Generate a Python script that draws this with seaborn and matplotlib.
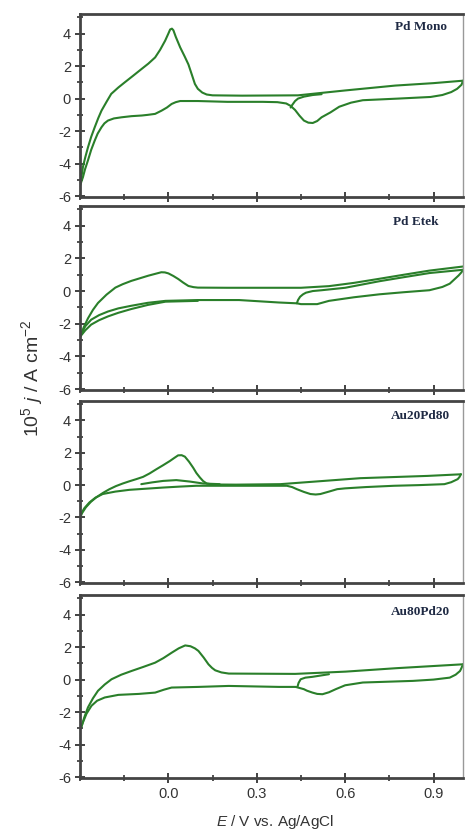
import pandas as pd
import seaborn as sns
import matplotlib.pyplot as plt
from matplotlib.ticker import MultipleLocator

sns.set_style("white")
plt.rcParams['font.family'] = ['Liberation Sans', 'DejaVu Sans']
plt.rcParams['mathtext.fontset'] = 'custom'
plt.rcParams['mathtext.rm'] = 'Liberation Sans'
plt.rcParams['mathtext.it'] = 'Liberation Sans:italic'
plt.rcParams['axes.unicode_minus'] = False

# --- Pd Mono ---
mono_start_E = [0.415, 0.42, 0.43, 0.44, 0.46, 0.49, 0.52]
mono_start_j = [-0.55, -0.4, -0.15, 0.0, 0.12, 0.22, 0.27]
mono_fwd_E = [-0.30, -0.295, -0.29, -0.282, -0.273, -0.262, -0.25, -0.238, -0.227, -0.21,
              -0.194, -0.17, -0.148, -0.12, -0.091, -0.068, -0.045, -0.028, -0.011, 0.0,
              0.006, 0.012, 0.017, 0.025, 0.04, 0.055, 0.068, 0.08, 0.09, 0.1, 0.115, 0.13,
              0.15, 0.25, 0.44, 0.60, 0.77, 0.90, 1.0]
mono_fwd_j = [-5.35, -4.8, -4.2, -3.6, -3.0, -2.35, -1.76, -1.2, -0.74, -0.2,
              0.29, 0.68, 1.0, 1.4, 1.82, 2.15, 2.53, 3.0, 3.56, 4.0,
              4.25, 4.3, 4.2, 3.8, 3.15, 2.6, 2.1, 1.45, 0.9, 0.6, 0.37, 0.25,
              0.2, 0.18, 0.2, 0.5, 0.8, 0.95, 1.1]
mono_rev_E = [1.0, 0.995, 0.98, 0.96, 0.93, 0.89, 0.78, 0.66, 0.62, 0.58, 0.55, 0.52, 0.505,
              0.49, 0.475, 0.46, 0.445, 0.43, 0.415, 0.40, 0.37, 0.32, 0.2, 0.1, 0.04, 0.025,
              0.011, -0.005, -0.023, -0.045, -0.07, -0.09, -0.125, -0.159, -0.185, -0.205,
              -0.217, -0.227, -0.24, -0.25, -0.262, -0.273, -0.283, -0.29, -0.30]
mono_rev_j = [1.1, 0.85, 0.6, 0.4, 0.22, 0.1, 0.0, -0.1, -0.25, -0.5, -0.85, -1.15, -1.38,
              -1.5, -1.48, -1.35, -1.05, -0.7, -0.45, -0.3, -0.22, -0.2, -0.2, -0.15, -0.15, -0.22,
              -0.33, -0.55, -0.74, -0.94, -1.0, -1.04, -1.08, -1.15, -1.22, -1.35,
              -1.52, -1.76, -2.15, -2.58, -3.15, -3.8, -4.35, -4.83, -5.35]

# --- Pd Etek ---
etek_fwd_E = [-0.30, -0.287, -0.273, -0.256, -0.239, -0.21, -0.18, -0.155, -0.126, -0.097,
              -0.068, -0.045, -0.024, -0.012, 0.0, 0.017, 0.034, 0.05, 0.068, 0.085, 0.10,
              0.2, 0.45, 0.545, 0.63, 0.716, 0.8, 0.886, 1.0]
etek_fwd_j = [-2.8, -2.2, -1.67, -1.15, -0.73, -0.22, 0.21, 0.42, 0.62, 0.78,
              0.94, 1.05, 1.15, 1.14, 1.08, 0.92, 0.73, 0.52, 0.31, 0.24, 0.21,
              0.2, 0.2, 0.3, 0.5, 0.75, 1.0, 1.25, 1.5]
etek_start_E = [0.436, 0.44, 0.447, 0.457, 0.467, 0.49, 0.52, 0.6, 0.716, 0.8, 0.886, 1.0]
etek_start_j = [-0.75, -0.55, -0.35, -0.2, -0.1, 0.0, 0.05, 0.2, 0.6, 0.85, 1.1, 1.3]
etek_rev_E = [1.0, 0.995, 0.985, 0.97, 0.955, 0.93, 0.886, 0.8, 0.716, 0.63, 0.545, 0.505,
              0.45, 0.436, 0.375, 0.24, 0.1, -0.01, -0.07, -0.126, -0.17, -0.205, -0.235,
              -0.262, -0.282, -0.30]
etek_rev_j = [1.3, 1.15, 0.95, 0.7, 0.45, 0.25, 0.05, -0.07, -0.2, -0.38, -0.6, -0.8,
              -0.8, -0.75, -0.7, -0.55, -0.55, -0.6, -0.72, -0.9, -1.06, -1.25, -1.47,
              -1.75, -2.15, -2.8]
etek_rev2_E = [0.1, -0.01, -0.07, -0.126, -0.17, -0.205, -0.235, -0.262, -0.282, -0.30]
etek_rev2_j = [-0.6, -0.65, -0.85, -1.1, -1.33, -1.55, -1.78, -2.05, -2.4, -2.8]

# --- Au20Pd80 ---
a28_fwd_E = [-0.302, -0.292, -0.28, -0.263, -0.245, -0.222, -0.2, -0.178, -0.155, -0.132,
             -0.109, -0.086, -0.064, -0.041, -0.018, 0.005, 0.02, 0.033, 0.045, 0.056,
             0.07, 0.084, 0.095, 0.107, 0.118, 0.13, 0.15, 0.23, 0.38, 0.52, 0.652, 0.88, 0.993]
a28_fwd_j = [-2.09, -1.7, -1.37, -1.03, -0.76, -0.48, -0.25, -0.06, 0.1, 0.24,
             0.37, 0.51, 0.72, 0.98, 1.23, 1.49, 1.68, 1.84, 1.85, 1.76,
             1.45, 1.08, 0.75, 0.47, 0.25, 0.1, 0.04, 0.03, 0.06, 0.25, 0.43, 0.57, 0.67]
a28_fwd2_E = [-0.092, -0.055, -0.018, 0.027, 0.073, 0.118, 0.174]
a28_fwd2_j = [0.06, 0.17, 0.26, 0.31, 0.22, 0.1, 0.06]
a28_rev_E = [0.993, 0.988, 0.982, 0.96, 0.937, 0.85, 0.766, 0.67, 0.6, 0.573, 0.545, 0.516,
             0.5, 0.482, 0.46, 0.436, 0.42, 0.402, 0.198, 0.095, 0.04, -0.018, -0.075,
             -0.132, -0.18, -0.223, -0.248, -0.268, -0.285, -0.297, -0.302]
a28_rev_j = [0.67, 0.5, 0.37, 0.18, 0.06, 0.0, -0.04, -0.12, -0.2, -0.25, -0.4, -0.55,
             -0.58, -0.55, -0.42, -0.25, -0.12, -0.04, -0.04, -0.04, -0.09, -0.15, -0.22,
             -0.29, -0.4, -0.55, -0.78, -1.07, -1.42, -1.78, -2.09]

# --- Au80Pd20 ---
a82_fwd_E = [-0.296, -0.285, -0.273, -0.256, -0.239, -0.216, -0.193, -0.16, -0.125, -0.085,
             -0.045, -0.017, 0.011, 0.035, 0.057, 0.075, 0.09, 0.102, 0.12, 0.136, 0.148,
             0.159, 0.18, 0.205, 0.43, 0.602, 0.773, 1.0]
a82_fwd_j = [-2.94, -2.3, -1.71, -1.15, -0.69, -0.3, 0.02, 0.3, 0.53, 0.78,
             1.04, 1.32, 1.65, 1.92, 2.1, 2.05, 1.92, 1.76, 1.35, 0.94, 0.72,
             0.57, 0.44, 0.37, 0.35, 0.49, 0.7, 0.94]
a82_start_E = [0.438, 0.442, 0.449, 0.465, 0.489, 0.545]
a82_start_j = [-0.45, -0.2, 0.02, 0.12, 0.17, 0.33]
a82_rev_E = [1.0, 0.995, 0.99, 0.975, 0.955, 0.9, 0.83, 0.66, 0.6, 0.568, 0.545, 0.523,
             0.505, 0.489, 0.47, 0.46, 0.432, 0.375, 0.205, 0.102, 0.011, -0.015, -0.045,
             -0.1, -0.17, -0.216, -0.242, -0.261, -0.278, -0.29, -0.296]
a82_rev_j = [0.94, 0.72, 0.53, 0.3, 0.12, 0.0, -0.08, -0.18, -0.35, -0.59, -0.78, -0.9,
             -0.88, -0.8, -0.68, -0.59, -0.45, -0.45, -0.39, -0.45, -0.49, -0.62, -0.8,
             -0.88, -0.94, -1.1, -1.3, -1.61, -2.1, -2.63, -2.94]

panel_names = ["Pd Mono", "Pd Etek", "Au20Pd80", "Au80Pd20"]
panel_curves = [
    [(mono_fwd_E, mono_fwd_j), (mono_rev_E, mono_rev_j), (mono_start_E, mono_start_j)],
    [(etek_fwd_E, etek_fwd_j), (etek_rev_E, etek_rev_j), (etek_start_E, etek_start_j),
     (etek_rev2_E, etek_rev2_j)],
    [(a28_fwd_E, a28_fwd_j), (a28_fwd2_E, a28_fwd2_j), (a28_rev_E, a28_rev_j)],
    [(a82_fwd_E, a82_fwd_j), (a82_rev_E, a82_rev_j), (a82_start_E, a82_start_j)],
]

# axes boxes in pixels (top, bottom) of a 465x832 canvas
W, H = 465, 832
boxes = [(14, 197), (206, 390), (401, 583), (595, 778)]
label_pos = [(0.958, 0.93), (0.936, 0.913), (0.966, 0.918), (0.966, 0.907)]

fig = plt.figure(figsize=(4.65, 8.32), dpi=100)
green = "#2a7f2a"
for i, (top, bot) in enumerate(boxes):
    ax = fig.add_axes([80 / W, 1 - bot / H, 383 / W, (bot - top) / H])
    for E, j in panel_curves[i]:
        df = pd.DataFrame({"E": E, "j": j})
        sns.lineplot(data=df, x="E", y="j", sort=False, estimator=None,
                     color=green, lw=1.5, ax=ax)
    ax.set_xlim(-0.3, 1.0)
    ax.set_ylim(-6.05, 5.2)
    ax.xaxis.set_minor_locator(MultipleLocator(0.15))
    ax.set_xticks([0.0, 0.3, 0.6, 0.9])
    ax.yaxis.set_minor_locator(MultipleLocator(1))
    ax.set_yticks([-6, -4, -2, 0, 2, 4])
    ax.tick_params(which="major", direction="inout", length=7, width=1.3,
                   color="#333333", labelsize=10.5, labelcolor="#333333", pad=3)
    ax.tick_params(which="minor", direction="inout", length=4, width=1.2, color="#333333")
    ax.tick_params(which="both", bottom=True, left=True, top=False, right=False)
    for s in ["left", "bottom", "top"]:
        ax.spines[s].set_color("#444444")
        ax.spines[s].set_linewidth(2.0)
    ax.spines["right"].set_color("#999999")
    ax.spines["right"].set_linewidth(1.0)
    ax.set_xlabel("")
    ax.set_ylabel("")
    if i < 3:
        ax.tick_params(labelbottom=False)
    else:
        ax.set_xticklabels(["0.0", "0.3", "0.6", "0.9"])
    ax.set_yticklabels(["-6", "-4", "-2", "0", "2", "4"])
    lx, ly = label_pos[i]
    ax.text(lx, ly, panel_names[i], transform=ax.transAxes, ha="right", va="center",
            family=["Liberation Serif", "DejaVu Serif"], fontweight="bold",
            fontsize=9.5, color="#1f2a44")

fig.text(32 / W, 1 - 378 / H, r"10$^{5}$ $j$ / A cm$^{-2}$", rotation=90,
         ha="center", va="center", fontsize=14, color="#333333")
fig.text(275 / W, 1 - 822 / H, r"$E$ / V vs. Ag/AgCl", ha="center", va="center",
         fontsize=11, color="#333333")

fig.savefig("out.png", dpi=100)
